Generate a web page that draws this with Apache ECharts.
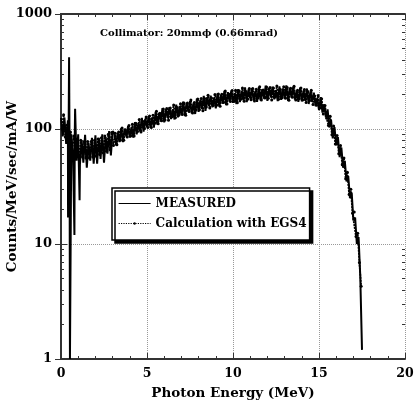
<!DOCTYPE html>
<html>
<head>
<meta charset="utf-8">
<script src="https://cdn.jsdelivr.net/npm/echarts@6/dist/echarts.min.js"></script>
<style>
  html, body { margin: 0; padding: 0; background: #fff; }
  #chart { width: 416px; height: 406px; }
</style>
</head>
<body>
<div id="chart"></div>
<script>
// Photon spectrum, counts per MeV per second per mA per W, binned every 0.1 MeV.
const ENERGY_STEP = 0.1;          // MeV per bin
const MEASURED_START = 0.0;       // MeV, first measured bin
const CALC_START = 0.05;          // MeV, first EGS4 bin

// Measured spectrum, 0.0 .. 17.5 MeV
const measuredCounts = [
  125, 86, 126, 74, 119, 57, 90, 60, 90, 53,
  90, 49, 80, 51, 89, 46, 76, 53, 84, 50,
  88, 50, 84, 55, 90, 51, 85, 61, 96, 59,
  96, 92, 72, 93, 77, 102, 77, 101, 86, 106,
  84, 104, 84, 115, 90, 113, 95, 125, 95, 123,
  104, 130, 103, 126, 103, 140, 109, 138, 116, 152,
  114, 149, 125, 155, 122, 148, 121, 163, 126, 159,
  133, 173, 130, 169, 142, 175, 137, 167, 135, 184,
  141, 179, 149, 194, 144, 189, 158, 195, 154, 187,
  151, 204, 157, 198, 166, 215, 161, 209, 174, 216,
  169, 205, 165, 222, 171, 215, 178, 230, 171, 221,
  184, 226, 177, 214, 172, 231, 177, 222, 184, 238,
  176, 228, 189, 233, 181, 218, 175, 235, 179, 225,
  185, 239, 176, 228, 189, 232, 180, 215, 172, 229,
  174, 216, 176, 225, 165, 211, 172, 207, 158, 186,
  146, 189, 139, 164, 126, 148, 103, 121, 83, 104,
  72, 85, 57, 69, 46, 53, 35, 39, 25, 28,
  16, 17, 10, 11.5, 5.2, 1.2
];

// Narrow low-energy excursions in the measured spectrum: [MeV, counts]
const measuredSpikes = [
  [0.41, 17], [0.47, 420], [0.52, 1], [0.78, 12], [0.82, 150], [1.08, 24]
];

// EGS4 calculation, 0.05 .. 17.45 MeV
const calcCounts = [
  100, 133, 85, 108, 72, 94, 65, 87, 60, 82,
  58, 80, 57, 78, 56, 78, 56, 78, 57, 80,
  58, 82, 60, 84, 62, 87, 64, 90, 66, 93,
  72, 92, 73, 94, 80, 102, 80, 98, 85, 107,
  87, 110, 87, 112, 95, 121, 94, 117, 101, 127,
  103, 130, 103, 132, 112, 143, 111, 137, 118, 149,
  120, 151, 119, 152, 128, 162, 125, 154, 132, 166,
  134, 168, 132, 168, 142, 179, 138, 170, 146, 182,
  147, 184, 144, 184, 155, 197, 152, 186, 160, 200,
  161, 202, 158, 201, 170, 214, 165, 202, 173, 216,
  173, 217, 169, 215, 181, 227, 174, 212, 181, 225,
  180, 225, 175, 222, 186, 233, 179, 218, 186, 232,
  185, 230, 179, 227, 190, 237, 181, 220, 187, 233,
  185, 230, 178, 226, 189, 235, 179, 217, 183, 227,
  179, 221, 170, 212, 176, 217, 163, 194, 161, 196,
  152, 183, 135, 160, 124, 107, 129, 89, 106, 74,
  88, 61, 72, 49, 56, 37, 42, 27, 30, 18.5,
  19, 11.6, 12.4, 6.9, 4.3
];

const xTicks = [0, 5, 10, 15, 20];
const yDecades = [1, 10, 100, 1000];
const yMinorTicks = [2, 3, 4, 5, 6, 7, 8, 9, 20, 30, 40, 50, 60, 70, 80, 90, 200, 300, 400, 500, 600, 700, 800, 900];

const seriesNames = ['MEASURED', 'Calculation with EGS4'];
const titleText = 'Collimator: 20mm\u03d5 (0.66mrad)';

function binned(counts, start) {
  return counts.map((v, i) => [Math.round((start + i * ENERGY_STEP) * 100) / 100, v]);
}

const measuredData = binned(measuredCounts, MEASURED_START)
  .concat(measuredSpikes)
  .sort((a, b) => a[0] - b[0]);
const calcData = binned(calcCounts, CALC_START);

const FONT = 'DejaVu Serif';
const axisLineStyle = { color: '#333', width: 2 };
const gridLine = { show: true, lineStyle: { color: '#999', type: 'dotted', width: 1 } };

const chart = echarts.init(document.getElementById('chart'), null, { renderer: 'canvas' });

chart.setOption({
  animation: false,
  backgroundColor: '#fff',
  title: {
    text: titleText,
    left: 100,
    top: 28,
    padding: 0,
    textStyle: { fontFamily: FONT, fontWeight: 'bold', fontSize: 10, color: '#000' }
  },
  grid: { left: 61, right: 11, top: 14, bottom: 47, containLabel: false, outerBoundsMode: 'none' },
  legend: {
    data: [
      { name: seriesNames[0], itemStyle: { opacity: 0 }, lineStyle: { width: 1.2 } },
      { name: seriesNames[1], lineStyle: { width: 1.2, type: 'dotted' } }
    ],
    orient: 'vertical',
    left: 112,
    top: 188,
    padding: [8, 3, 9, 6],
    itemWidth: 32,
    itemHeight: 3,
    itemGap: 5,
    borderColor: '#000',
    borderWidth: 1.5,
    backgroundColor: '#fff',
    shadowColor: '#000',
    shadowBlur: 0,
    shadowOffsetX: 3,
    shadowOffsetY: 3,
    textStyle: { fontFamily: FONT, fontWeight: 'bold', fontSize: 12, color: '#000', lineHeight: 15 }
  },
  xAxis: [
    {
      type: 'value', min: xTicks[0], max: xTicks[xTicks.length - 1], interval: 5,
      position: 'bottom',
      name: 'Photon Energy (MeV)', nameLocation: 'middle', nameGap: 27, nameMoveOverlap: false,
      nameTextStyle: { fontFamily: FONT, fontWeight: 'bold', fontSize: 13.5, color: '#000' },
      axisLine: { show: true, lineStyle: axisLineStyle },
      axisTick: { show: true, inside: true, length: 6, lineStyle: { color: '#333' } },
      minorTick: { show: true, splitNumber: 5, length: 3, lineStyle: { color: '#333' } },
      axisLabel: { margin: 8, fontFamily: FONT, fontWeight: 'bold', fontSize: 12.5, color: '#000' },
      splitLine: gridLine
    },
    {
      type: 'value', min: xTicks[0], max: xTicks[xTicks.length - 1], interval: 5,
      position: 'top',
      axisLine: { show: true, lineStyle: axisLineStyle },
      axisTick: { show: true, inside: true, length: 6, lineStyle: { color: '#333' } },
      minorTick: { show: true, splitNumber: 5, length: 3, lineStyle: { color: '#333' } },
      axisLabel: { show: false },
      splitLine: { show: false }
    }
  ],
  yAxis: [
    {
      type: 'log', logBase: 10, min: yDecades[0], max: yDecades[yDecades.length - 1],
      position: 'left',
      name: 'Counts/MeV/sec/mA/W', nameLocation: 'middle', nameGap: 42, nameMoveOverlap: false,
      nameTextStyle: { fontFamily: FONT, fontWeight: 'bold', fontSize: 13.5, color: '#000' },
      axisLine: { show: true, lineStyle: axisLineStyle },
      axisTick: { show: true, inside: true, length: 6, lineStyle: { color: '#333' } },
      axisLabel: {
        margin: 9, fontFamily: FONT, fontWeight: 'bold', fontSize: 13, color: '#000',
        formatter: (v) => String(Math.round(v))
      },
      splitLine: gridLine
    },
    {
      type: 'log', logBase: 10, min: yDecades[0], max: yDecades[yDecades.length - 1],
      position: 'right',
      axisLine: { show: true, lineStyle: axisLineStyle },
      axisTick: { show: true, inside: true, length: 6, lineStyle: { color: '#333' } },
      axisLabel: { show: false },
      splitLine: { show: false }
    },
    {
      type: 'log', logBase: 10, min: yDecades[0], max: yDecades[yDecades.length - 1],
      position: 'left',
      axisLine: { show: false },
      axisTick: { show: true, inside: true, length: 3, customValues: yMinorTicks, lineStyle: { color: '#333' } },
      axisLabel: { show: false },
      splitLine: { show: false }
    },
    {
      type: 'log', logBase: 10, min: yDecades[0], max: yDecades[yDecades.length - 1],
      position: 'right',
      axisLine: { show: false },
      axisTick: { show: true, inside: true, length: 3, customValues: yMinorTicks, lineStyle: { color: '#333' } },
      axisLabel: { show: false },
      splitLine: { show: false }
    }
  ],
  series: [
    {
      name: seriesNames[0],
      type: 'line',
      xAxisIndex: 0, yAxisIndex: 0,
      data: measuredData,
      symbol: 'none',
      lineStyle: { color: '#000', width: 2 },
      itemStyle: { color: '#000' },
      z: 3
    },
    {
      name: seriesNames[1],
      type: 'line',
      xAxisIndex: 0, yAxisIndex: 0,
      data: calcData,
      symbol: 'circle',
      symbolSize: 3,
      showSymbol: true,
      lineStyle: { color: '#000', width: 1.8, type: [2, 1] },
      itemStyle: { color: '#000' },
      z: 4
    }
  ]
});
</script>
</body>
</html>
